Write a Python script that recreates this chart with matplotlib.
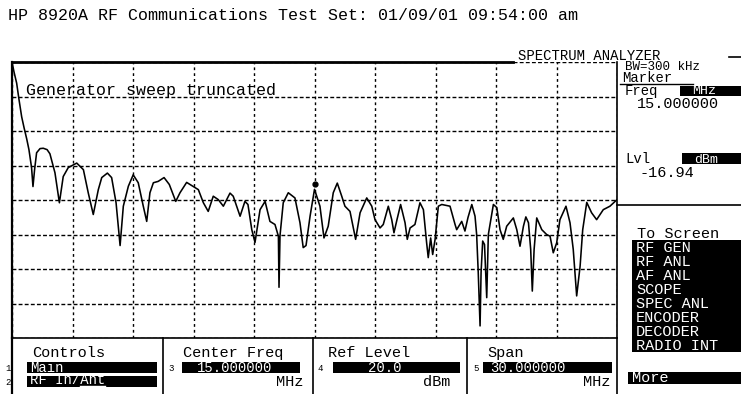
import numpy as np
import matplotlib
matplotlib.use("Agg")
import matplotlib.pyplot as plt
from matplotlib.patches import Rectangle
from matplotlib.lines import Line2D

#---------HP 8920A spectrum analyzer screen dump----------#

# trace: frequency (MHz) vs level (dBm)
freq_mhz = [0.00, 0.10, 0.23, 0.35, 0.48, 0.60, 0.73, 0.84, 0.97, 1.04,
            1.12, 1.22, 1.39, 1.55, 1.74, 1.88, 2.13, 2.35, 2.54, 2.79,
            3.21, 3.54, 3.78, 4.03, 4.28, 4.45, 4.73, 4.94, 5.16, 5.36,
            5.52, 5.77, 6.01, 6.26, 6.51, 6.68, 6.84, 7.01, 7.25, 7.54,
            7.80, 8.12, 8.33, 8.66, 8.96, 9.24, 9.49, 9.73, 9.98, 10.23,
            10.48, 10.81, 10.97, 11.31, 11.55, 11.70, 11.89, 12.05, 12.30, 12.55,
            12.79, 13.04, 13.21, 13.24, 13.29, 13.45, 13.70, 14.03, 14.28, 14.44,
            14.58, 14.78, 15.00, 15.27, 15.47, 15.68, 15.93, 16.13, 16.35, 16.51,
            16.76, 17.04, 17.26, 17.59, 17.84, 18.00, 18.25, 18.41, 18.66, 18.83,
            18.94, 19.09, 19.27, 19.49, 19.60, 19.74, 19.98, 20.23, 20.40, 20.56,
            20.64, 20.76, 20.86, 20.98, 21.14, 21.31, 21.72, 21.97, 22.05, 22.30,
            22.46, 22.61, 22.80, 22.96, 23.04, 23.12, 23.21, 23.26, 23.34, 23.43,
            23.54, 23.62, 23.87, 24.04, 24.20, 24.36, 24.53, 24.86, 25.03, 25.19,
            25.36, 25.48, 25.61, 25.72, 25.80, 25.89, 26.02, 26.27, 26.51, 26.68,
            26.84, 27.01, 27.17, 27.47, 27.67, 27.83, 28.00, 28.17, 28.30, 28.50,
            28.74, 28.99, 29.32, 29.65, 30.00]
level_dbm = [20.0, 17.1, 13.9, 9.0, 4.1, 0.9, -2.3, -5.4, -10.6, -16.1,
             -11.2, -6.3, -5.1, -5.0, -5.4, -6.6, -12.1, -20.8, -13.2, -10.6,
             -9.3, -11.2, -17.9, -24.2, -17.0, -13.5, -12.2, -13.5, -20.8, -33.2,
             -21.8, -16.0, -12.7, -15.0, -21.8, -26.2, -17.9, -15.0, -14.6, -13.5,
             -15.5, -20.4, -17.9, -14.9, -16.0, -17.0, -20.8, -23.3, -18.9, -19.9,
             -21.8, -18.0, -18.9, -24.7, -20.4, -21.3, -28.6, -32.3, -22.8, -20.4,
             -26.2, -27.1, -30.5, -45.3, -30.3, -20.8, -17.9, -19.4, -26.6, -33.8,
             -33.2, -24.7, -16.9, -21.8, -31.0, -27.6, -17.9, -15.1, -18.9, -21.8,
             -23.3, -31.4, -23.7, -19.4, -21.8, -25.7, -28.1, -27.1, -21.8, -25.7,
             -29.5, -25.7, -21.3, -26.6, -31.4, -28.1, -27.1, -20.8, -22.8, -32.4,
             -36.7, -31.0, -35.8, -31.4, -21.8, -21.3, -21.8, -27.1, -28.6, -26.2,
             -29.0, -25.1, -21.3, -24.7, -30.0, -41.1, -56.5, -41.0, -31.9, -32.9,
             -48.3, -30.0, -21.3, -22.2, -28.6, -31.4, -27.6, -25.2, -28.6, -33.4,
             -27.6, -24.9, -26.6, -34.3, -46.4, -34.3, -25.2, -28.6, -30.0, -30.5,
             -35.3, -32.4, -25.7, -21.8, -26.6, -34.3, -47.8, -39.2, -28.6, -20.7,
             -23.7, -25.7, -22.8, -21.8, -19.9]

marker_freq = 15.0
marker_lvl = -16.94

center_freq = 15.0
span = 30.0
ref_level = 20.0
db_per_div = 10

title = "HP 8920A RF Communications Test Set: 01/09/01 09:54:00 am"
screens = ["RF GEN", "RF ANL", "AF ANL", "SCOPE", "SPEC ANL",
           "ENCODER", "DECODER", "RADIO INT"]

plt.rcParams['font.family'] = ['Liberation Mono', 'DejaVu Sans Mono']

W, H = 741, 394
fig = plt.figure(figsize=(W / 100, H / 100), dpi=100)

# screen pixel -> figure fraction helpers
def fx(px):
    return px / W

def fy(py):
    return 1 - py / H

FS = 10     # right panel text
LS = 11     # larger labels
BS = 10     # text inside black key boxes

def label(px, py, s, size=FS, color='black', ha='left'):
    # py is the baseline
    fig.text(fx(px), fy(py), s, fontsize=size, color=color, ha=ha, va='baseline')

def box(x0, y0, x1, y1):
    fig.patches.append(Rectangle((fx(x0), fy(y1)), fx(x1) - fx(x0), fy(y0) - fy(y1),
                                 transform=fig.transFigure, facecolor='black',
                                 edgecolor='none'))

def hline(x0, x1, py, lw=1.0, color='black'):
    fig.lines.append(Line2D([fx(x0), fx(x1)], [fy(py), fy(py)], transform=fig.transFigure,
                            color=color, lw=lw))

def vline(px, y0, y1, lw=1.0):
    fig.lines.append(Line2D([fx(px), fx(px)], [fy(y0), fy(y1)], transform=fig.transFigure,
                            color='black', lw=lw))

# trace area
ax = fig.add_axes([fx(12), fy(338), fx(617) - fx(12), fy(62) - fy(338)])
ax.set_xlim(center_freq - span / 2, center_freq + span / 2)
ax.set_ylim(ref_level - 8 * db_per_div, ref_level)
ax.set_xticks(np.linspace(center_freq - span / 2, center_freq + span / 2, 11))
ax.set_yticks(np.arange(ref_level - 8 * db_per_div, ref_level + 1, db_per_div))
ax.tick_params(length=0, labelbottom=False, labelleft=False)
ax.xaxis.grid(True, color='black', lw=1.0, linestyle=(0, (2.0, 2.2)))
ax.yaxis.grid(True, color='black', lw=1.0, linestyle=(0, (2.8, 1.6)))
ax.spines['top'].set_visible(False)
ax.spines['left'].set_linewidth(1.6)
ax.spines['right'].set_linewidth(1.2)
ax.spines['bottom'].set_linewidth(1.2)
# top border stops where the SPECTRUM ANALYZER header starts
ax.plot([0, 0.828], [1, 1], transform=ax.transAxes, color='black', lw=2.0, clip_on=False)

ax.plot(freq_mhz, level_dbm, color='black', lw=1.15)
ax.plot([marker_freq], [marker_lvl + 1.5], marker='o', ms=3.5, color='black')

ax.text(0.023, 0.88, "Generator sweep truncated", transform=ax.transAxes,
        fontsize=12, va='baseline')

# header
label(8, 20, title, size=12)
label(518, 59.5, "SPECTRUM ANALYZER", size=10)
hline(729, 741, 56.5, lw=1.2)

# right panel
label(625, 69.5, "BW=300 kHz", size=9)
label(622, 82, "Marker")
hline(620, 693, 84, lw=1.0)
label(625, 95.5, "Freq")
box(680, 86, 741, 96)
label(692, 94.5, "MHz", size=9.5, color='white')
label(637, 108, "15.000000", size=LS)
label(625, 163, "Lvl")
box(682, 153, 741, 164)
label(694, 162.5, "dBm", size=9.5, color='white')
label(640, 177, "-16.94", size=LS)
hline(617, 741, 205, lw=1.2)

label(637, 237.5, "To Screen", size=LS)
box(632, 240, 741, 352)
for i, s in enumerate(screens):
    label(636, 251.5 + 14 * i, s, size=LS, color='white')
box(628, 372, 741, 384)
label(632, 382, "More", size=LS, color='white')

# bottom soft-key panels
vline(12, 338, 394, lw=1.6)
for px in [163, 313, 467]:
    vline(px, 338, 394, lw=1.2)
vline(617, 338, 394, lw=1.2)

small = 6.5
label(32, 357, "Controls", size=LS)
label(5, 371, "1", size=small)
label(5, 385, "2", size=small)
box(27, 362, 157, 373)
box(27, 376, 157, 387)
label(30, 371.5, "Main", size=BS, color='white')
label(30, 384.5, "RF In/Ant", size=BS, color='white')
pitch = 0.6 * BS * 100 / 72
hline(30 + 6 * pitch, 30 + 9 * pitch, 386, lw=1.0, color='white')

label(183, 357, "Center Freq", size=LS)
label(168, 371, "3", size=small)
box(182, 362, 300, 373)
label(197, 371.5, "%.6f" % center_freq, size=BS, color='white')
label(303, 385.5, "MHz", size=LS, ha='right')

label(328, 357, "Ref Level", size=LS)
label(318, 371, "4", size=small)
box(333, 362, 460, 373)
label(368, 371.5, "%.1f" % ref_level, size=BS, color='white')
label(450, 385.5, "dBm", size=LS, ha='right')

label(487, 357, "Span", size=LS)
label(473, 371, "5", size=small)
box(483, 362, 612, 373)
label(490, 371.5, "%.6f" % span, size=BS, color='white')
label(610, 385.5, "MHz", size=LS, ha='right')

fig.savefig("out.png", dpi=100)
